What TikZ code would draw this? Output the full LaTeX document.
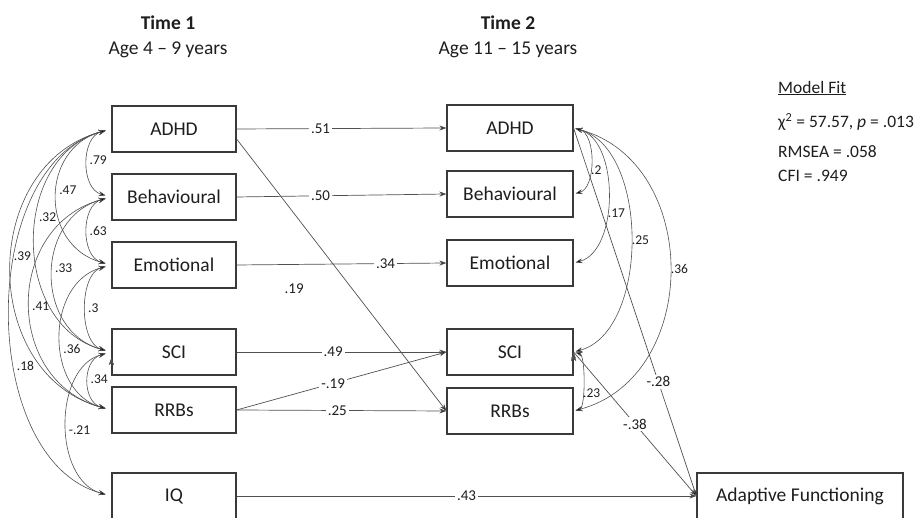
\documentclass[tikz,border=0pt]{standalone}
\usepackage{fontspec}
\setmainfont{Carlito}
\usetikzlibrary{arrows.meta}

\definecolor{linegray}{HTML}{505050}
\definecolor{boxgray}{HTML}{3A3A3A}
\definecolor{txtgray}{HTML}{1E1E1E}

\tikzset{
  var/.style={draw=boxgray, line width=1.2pt, fill=white, text=txtgray,
    minimum width=124pt, minimum height=46pt, inner sep=0pt,
    font=\fontsize{19.5}{22}\selectfont},
  path/.style={->, draw=linegray, line width=0.7pt},
  covl/.style={<->, draw=linegray, line width=0.6pt, shorten <=6pt, shorten >=6pt},
  covr/.style={<->, draw=linegray, line width=0.6pt, shorten <=2pt, shorten >=2pt},
  arcl/.style={out=195, in=165, looseness=#1},
  arcr/.style={out=-15, in=15, looseness=#1},
  rlab/.style={fill=white, text=txtgray, inner sep=2pt, font=\fontsize{15}{17}\selectfont},
  clab/.style={text=txtgray, inner sep=1pt, font=\fontsize{13.5}{15}\selectfont},
  head/.style={text=txtgray, align=center, font=\fontsize{19.5}{25}\selectfont},
  fit/.style={text=txtgray, anchor=west, inner sep=0pt, font=\fontsize{17.5}{20}\selectfont}
}

\begin{document}
\begin{tikzpicture}[x=1pt, y=1pt, >={Stealth[length=7pt,width=5pt]}]
    \useasboundingbox (0,0) rectangle (917,518);

    % column heads
    \node[head] at (168,481) (headA) {\textbf{Time 1}\\Age 4 – 9 years};
    \node[head] at (508,481) (headB) {\textbf{Time 2}\\Age 11 – 15 years};

    % time 1
    \node[var] at (174,389) (adhdA) {ADHD};
    \node[var] at (174,321) (behA) {Behavioural};
    \node[var] at (174,253) (emoA) {Emotional};
    \node[var] at (174,166) (sciA) {SCI};
    \node[var] at (174,108) (rrbA) {RRBs};
    \node[var] at (174,22) (iqA) {IQ};

    % time 2
    \node[var, minimum width=126pt] at (510,390) (adhdB) {ADHD};
    \node[var, minimum width=126pt] at (510,324) (behB) {Behavioural};
    \node[var, minimum width=126pt] at (510,255) (emoB) {Emotional};
    \node[var, minimum width=126pt] at (510,166) (sciB) {SCI};
    \node[var, minimum width=126pt] at (510,107) (rrbB) {RRBs};
    \node[var, minimum width=206pt] at (800,22) (adapt) {Adaptive Functioning};

    % model fit
    \node[fit] at (778,430) (fitHead) {\underline{Model Fit}};
    \node[fit] at (778,396) (fitChi) {χ\textsuperscript{2} = 57.57, \textit{p} = .013};
    \node[fit] at (778,366) (fitRmsea) {RMSEA = .058};
    \node[fit] at (778,342) (fitCfi) {CFI = .949};

    % regression paths
    \path[path]
    (adhdA.east) edge node[rlab, pos=.40] {.51} (adhdB.west)
    (behA.east) edge node[rlab, pos=.40] {.50} (behB.west)
    (emoA.east) edge node[rlab, pos=.71] {.34} (emoB.west)
    (sciA.east) edge node[rlab, pos=.46] {.49} (sciB.west)
    (rrbA.east) edge node[rlab, pos=.48] {.25} (rrbB.west)
    (rrbA.east) edge node[rlab, pos=.46] {-.19} (sciB.west)
    ([yshift=-10pt]adhdA.east) edge node[clab, font=\fontsize{15}{17}\selectfont, pos=.55, left=47pt] {.19} (rrbB.west)
    (iqA.east) edge node[rlab, pos=.50] {.43} (adapt.west)
    (adhdB.east) edge node[rlab, pos=.69] {-.28} (adapt.west)
    (sciB.east) edge node[rlab, pos=.50] {-.38} (adapt.west)
    ;

    % time 1 covariances
    \path[covl]
    (adhdA.west) edge[arcl=1.2] node[clab, right, pos=.47] {.79} (behA.west)
    (adhdA.west) edge[arcl=1.4] node[clab, right, pos=.46] {.47} (emoA.west)
    (adhdA.west) edge[arcl=1.2] node[clab, right, pos=.42] {.32} (sciA.west)
    (adhdA.west) edge[arcl=1.25] node[clab, right, pos=.465] {.39} (rrbA.west)
    (adhdA.west) edge[arcl=.97] node[clab, right, pos=.61] {.18} (iqA.west)
    (behA.west) edge[arcl=1.2] node[clab, right, pos=.50] {.63} (emoA.west)
    (behA.west) edge[arcl=1.32] node[clab, right, pos=.47] {.33} (sciA.west)
    (behA.west) edge[arcl=1.34] node[clab, right, pos=.51] {.41} (rrbA.west)
    (emoA.west) edge[arcl=1.0] node[clab, right, pos=.50] {.3} (sciA.west)
    (emoA.west) edge[arcl=1.22] node[clab, right, pos=.56] {.36} (rrbA.west)
    (sciA.west) edge[arcl=1.35] node[clab, right, pos=.48] {.34} (rrbA.west)
    (sciA.west) edge[arcl=1.08] node[clab, right, pos=.53] {-.21} (iqA.west)
    ;

    % time 2 covariances
    \path[covr]
    (adhdB.east) edge[arcr=.91] node[clab, right, pos=.60] {.2} (behB.east)
    (adhdB.east) edge[arcr=.9] node[clab, right, pos=.60] {.17} (emoB.east)
    (adhdB.east) edge[arcr=.9] node[clab, right, pos=.50] {.25} (sciB.east)
    (adhdB.east) edge[arcr=1.2] node[clab, right, pos=.50] {.36} (rrbB.east)
    (sciB.east) edge[arcr=.54] node[clab, right, pos=.64] {.23} (rrbB.east)
    ;
\end{tikzpicture}
\end{document}
